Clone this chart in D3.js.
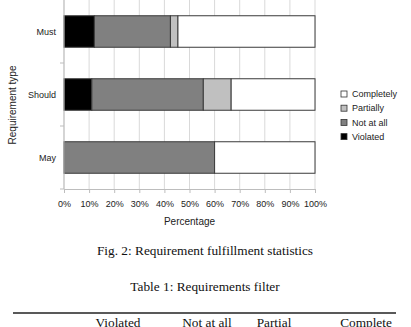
<!DOCTYPE html>
<html>
<head>
<meta charset="utf-8">
<script src="https://cdn.jsdelivr.net/npm/d3@7"></script>
<style>
  body { margin: 0; background: #fff; }
  svg { display: block; }
</style>
</head>
<body>
<div id="chart"></div>
<script>
// categories and series (percent of requirements)
var types = ["Must", "Should", "May"];
var levels = ["Violated", "Not at all", "Partially", "Completely"];
var violated = [12.1, 11.1, 0];
var notAtAll = [30.3, 44.4, 60];
var partially = [3.0, 11.1, 0];
var completely = [54.6, 33.4, 40];
var xTicks = [0, 10, 20, 30, 40, 50, 60, 70, 80, 90, 100];
var tableHead = ["Violated", "Not at all", "Partial", "Complete"];

var width = 411, height = 327;
var padding = {top: 0, left: 64, right: 96, bottom: 138};
var chartArea = {
  width: width - padding.left - padding.right,
  height: height - padding.top - padding.bottom
};

var colors = {"Violated": "#000000", "Not at all": "#808080", "Partially": "#c0c0c0", "Completely": "#ffffff"};

var rows = types.map(function(t, i) {
  return {type: t, "Violated": violated[i], "Not at all": notAtAll[i], "Partially": partially[i], "Completely": completely[i]};
});
var stacked = d3.stack().keys(levels)(rows);

var svg = d3.select("#chart").append("svg")
  .attr("width", width)
  .attr("height", height);

var xScale = d3.scaleLinear().domain([0, 100]).range([0, chartArea.width]);
var yScale = d3.scaleBand().domain(types).range([0, chartArea.height]).paddingInner(0.5).paddingOuter(0.25);

var g = svg.append("g").attr("transform", "translate(" + padding.left + "," + padding.top + ")");

// vertical grid
g.selectAll(".grid").data(xTicks).enter().append("line")
  .attr("x1", function(d) { return xScale(d); })
  .attr("x2", function(d) { return xScale(d); })
  .attr("y1", 0).attr("y2", chartArea.height)
  .attr("stroke", "#d9d9d9").attr("stroke-width", 1);

// bars
g.selectAll(".layer").data(stacked).enter().append("g")
  .attr("fill", function(d) { return colors[d.key]; })
  .selectAll("rect").data(function(d) { return d; }).enter().append("rect")
  .filter(function(d) { return d[1] - d[0] > 0; })
  .attr("x", function(d) { return xScale(d[0]); })
  .attr("y", function(d) { return yScale(d.data.type); })
  .attr("width", function(d) { return xScale(d[1]) - xScale(d[0]); })
  .attr("height", yScale.bandwidth())
  .attr("stroke", "#3a3a3a").attr("stroke-width", 1);

// x axis
var xAxis = g.append("g")
  .attr("transform", "translate(0," + chartArea.height + ")")
  .call(d3.axisBottom(xScale).tickValues(xTicks).tickSize(4).tickPadding(8)
    .tickFormat(function(d) { return d + "%"; }));
xAxis.select(".domain").attr("stroke", "#bdbdbd");
xAxis.selectAll(".tick line").attr("stroke", "#bdbdbd");
xAxis.selectAll("text").attr("font-family", "Liberation Sans, Arial, sans-serif").attr("font-size", 9).attr("fill", "#222");

// y axis: ticks at band boundaries
var yAxis = g.append("g");
yAxis.append("line").attr("x1", 0).attr("x2", 0).attr("y1", 0).attr("y2", chartArea.height).attr("stroke", "#bdbdbd");
var step = yScale.step();
var bounds = d3.range(1, types.length + 1).map(function(i) { return i * step; });
yAxis.selectAll(".yt").data(bounds).enter().append("line")
  .attr("x1", -4).attr("x2", 0)
  .attr("y1", function(d) { return d; }).attr("y2", function(d) { return d; })
  .attr("stroke", "#bdbdbd");
yAxis.selectAll(".yl").data(types).enter().append("text")
  .attr("x", -8)
  .attr("y", function(d) { return yScale(d) + yScale.bandwidth() / 2; })
  .attr("dy", "0.35em")
  .attr("text-anchor", "end")
  .attr("font-family", "Liberation Sans, Arial, sans-serif").attr("font-size", 9).attr("fill", "#222")
  .text(function(d) { return d; });

// axis titles
svg.append("text")
  .attr("x", padding.left + chartArea.width / 2).attr("y", 225)
  .attr("text-anchor", "middle")
  .attr("font-family", "Liberation Sans, Arial, sans-serif").attr("font-size", 10).attr("fill", "#222")
  .text("Percentage");
svg.append("text")
  .attr("transform", "translate(16,105) rotate(-90)")
  .attr("text-anchor", "middle")
  .attr("font-family", "Liberation Sans, Arial, sans-serif").attr("font-size", 10).attr("fill", "#222")
  .text("Requirement type");

// legend
var legendKeys = levels.slice().reverse();
var legend = svg.append("g").attr("transform", "translate(341,91)");
var lg = legend.selectAll("g").data(legendKeys).enter().append("g")
  .attr("transform", function(d, i) { return "translate(0," + (i * 14.2) + ")"; });
lg.append("rect").attr("width", 6).attr("height", 6).attr("y", 0)
  .attr("fill", function(d) { return colors[d]; })
  .attr("stroke", "#333").attr("stroke-width", 0.8);
lg.append("text").attr("x", 11).attr("y", 3).attr("dy", "0.35em")
  .attr("font-family", "Liberation Sans, Arial, sans-serif").attr("font-size", 9).attr("fill", "#222")
  .text(function(d) { return d; });

// captions
svg.append("text")
  .attr("x", 205).attr("y", 255)
  .attr("text-anchor", "middle")
  .attr("font-family", "Liberation Serif, Times New Roman, serif").attr("font-size", 13.3).attr("fill", "#111")
  .text("Fig. 2: Requirement fulfillment statistics");
svg.append("text")
  .attr("x", 205).attr("y", 291)
  .attr("text-anchor", "middle")
  .attr("font-family", "Liberation Serif, Times New Roman, serif").attr("font-size", 13.3).attr("fill", "#111")
  .text("Table 1: Requirements filter");
svg.append("line")
  .attr("x1", 13).attr("x2", 396).attr("y1", 313).attr("y2", 313)
  .attr("stroke", "#222").attr("stroke-width", 1.5);
var headX = [118, 207, 274, 366];
svg.selectAll(".th").data(tableHead).enter().append("text")
  .attr("x", function(d, i) { return headX[i]; }).attr("y", 327)
  .attr("text-anchor", "middle")
  .attr("font-family", "Liberation Serif, Times New Roman, serif").attr("font-size", 13.3).attr("fill", "#111")
  .text(function(d) { return d; });
</script>
</body>
</html>
